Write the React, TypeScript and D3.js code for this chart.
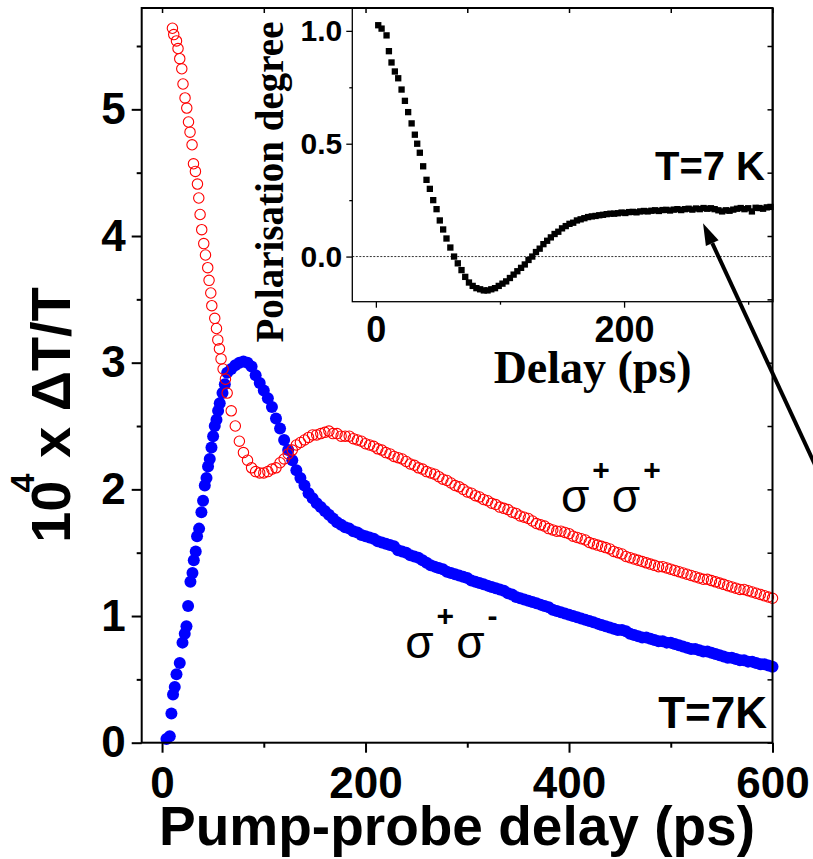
import React, { useEffect, useRef } from 'react';
import * as d3 from 'd3';

// sigma+ sigma+ (red open circles): steep early decay, [delay ps, value]
const sameEarly: [number, number][] = [
  [10.2, 5.64], [11.5, 5.59], [14.2, 5.54], [15.7, 5.48], [17.4, 5.4], [19.4, 5.32], [20.6, 5.2], [22.6, 5.09],
  [24.3, 5.01], [26.0, 4.9], [27.5, 4.82], [29.5, 4.72], [30.9, 4.57], [32.8, 4.51], [34.8, 4.41], [36.1, 4.3],
  [37.4, 4.17], [39.0, 4.05], [41.0, 3.94], [42.7, 3.85], [44.9, 3.75], [46.2, 3.65], [47.9, 3.55], [48.9, 3.45],
  [51.8, 3.35], [53.5, 3.27], [54.8, 3.18], [56.4, 3.11], [58.0, 3.03], [60.0, 2.95], [62.3, 2.87],
];

// sigma+ sigma- (blue filled circles): rising edge
const crossEarly: [number, number][] = [
  [4.3, 0.03], [7.6, 0.05], [9.2, 0.23], [10.8, 0.38], [12.5, 0.44], [14.2, 0.54], [17.4, 0.63], [20.1, 0.79],
  [22.3, 0.86], [24.0, 0.92], [25.6, 1.08], [27.9, 1.27], [29.9, 1.34], [31.2, 1.44], [33.1, 1.51], [34.4, 1.63],
  [36.4, 1.69], [38.7, 1.82], [40.3, 1.91], [42.0, 2.03], [43.7, 2.09], [45.2, 2.18], [46.9, 2.24], [48.6, 2.33],
  [50.2, 2.42], [51.8, 2.5], [53.5, 2.55], [55.1, 2.62], [56.7, 2.68], [59.4, 2.76], [61.7, 2.83],
];

// both tails are sampled every 4 ps from 64 ps to 600 ps
const tailDelays = d3.range(64, 601, 4);
const sameTail = [
  2.76, 2.62, 2.5, 2.38, 2.29, 2.23, 2.17, 2.14, 2.13, 2.13,
  2.14, 2.16, 2.17, 2.21, 2.24, 2.28, 2.31, 2.35, 2.37, 2.39,
  2.41, 2.43, 2.43, 2.44, 2.45, 2.46, 2.44, 2.44, 2.42, 2.42,
  2.42, 2.4, 2.39, 2.38, 2.36, 2.35, 2.34, 2.32, 2.31, 2.29,
  2.28, 2.26, 2.25, 2.24, 2.22, 2.2, 2.19, 2.17, 2.16, 2.14,
  2.13, 2.12, 2.1, 2.08, 2.07, 2.05, 2.03, 2.02, 2.0, 1.98,
  1.97, 1.95, 1.94, 1.92, 1.91, 1.89, 1.88, 1.86, 1.85, 1.84,
  1.82, 1.81, 1.79, 1.78, 1.77, 1.75, 1.73, 1.72, 1.71, 1.69,
  1.68, 1.67, 1.67, 1.66, 1.65, 1.63, 1.62, 1.61, 1.6, 1.58,
  1.57, 1.56, 1.55, 1.54, 1.53, 1.51, 1.5, 1.49, 1.47, 1.46,
  1.45, 1.44, 1.43, 1.42, 1.41, 1.4, 1.39, 1.39, 1.38, 1.37,
  1.36, 1.35, 1.34, 1.33, 1.32, 1.31, 1.3, 1.29, 1.29, 1.28,
  1.27, 1.26, 1.25, 1.24, 1.23, 1.22, 1.21, 1.21, 1.2, 1.19,
  1.18, 1.17, 1.16, 1.15, 1.14,
];
const crossTail = [
  2.92, 2.95, 2.98, 3.0, 3.01, 3.0, 2.97, 2.9, 2.84, 2.78,
  2.72, 2.65, 2.56, 2.48, 2.39, 2.31, 2.23, 2.15, 2.09, 2.03,
  1.97, 1.93, 1.89, 1.86, 1.83, 1.8, 1.77, 1.74, 1.72, 1.7,
  1.69, 1.67, 1.66, 1.64, 1.63, 1.62, 1.61, 1.59, 1.58, 1.57,
  1.56, 1.55, 1.52, 1.51, 1.5, 1.48, 1.47, 1.46, 1.44, 1.42,
  1.4, 1.39, 1.38, 1.37, 1.35, 1.34, 1.33, 1.32, 1.31, 1.3,
  1.28, 1.27, 1.26, 1.25, 1.24, 1.23, 1.22, 1.21, 1.2, 1.18,
  1.17, 1.15, 1.14, 1.13, 1.12, 1.11, 1.1, 1.09, 1.08, 1.07,
  1.05, 1.04, 1.03, 1.02, 1.01, 1.0, 0.99, 0.98, 0.97, 0.96,
  0.95, 0.94, 0.93, 0.92, 0.91, 0.9, 0.89, 0.89, 0.88, 0.86,
  0.85, 0.84, 0.83, 0.83, 0.82, 0.81, 0.8, 0.8, 0.79, 0.79,
  0.78, 0.77, 0.76, 0.75, 0.74, 0.74, 0.73, 0.72, 0.72, 0.71,
  0.7, 0.69, 0.68, 0.67, 0.67, 0.66, 0.65, 0.65, 0.64, 0.64,
  0.63, 0.62, 0.62, 0.61, 0.6,
];

// inset: polarisation degree
const polEarly: [number, number][] = [
  [1.9, 1.025], [4.6, 1.01], [8.6, 0.98], [10.5, 0.91], [12.6, 0.86], [15.3, 0.82], [18, 0.79], [20.7, 0.74],
  [23.4, 0.69], [26, 0.64], [28.8, 0.59], [31.4, 0.54], [33.3, 0.5], [35.4, 0.46], [38.1, 0.4], [40.8, 0.34],
  [43.5, 0.3], [46.2, 0.25], [48.9, 0.21], [51.5, 0.16], [54.2, 0.12], [56.9, 0.08],
];
const polDelays = d3.range(60, 319, 3);
const polTail = [
  0.04, 0.0, -0.03, -0.06, -0.09, -0.115, -0.13, -0.14, -0.145, -0.15,
  -0.15, -0.145, -0.14, -0.13, -0.12, -0.11, -0.095, -0.08, -0.065, -0.05,
  -0.035, -0.015, 0.0, 0.02, 0.035, 0.055, 0.07, 0.085, 0.1, 0.11,
  0.125, 0.135, 0.145, 0.15, 0.16, 0.165, 0.17, 0.175, 0.178, 0.18,
  0.183, 0.185, 0.188, 0.19, 0.19, 0.192, 0.195, 0.193, 0.197, 0.198,
  0.196, 0.2, 0.202, 0.2, 0.203, 0.205, 0.202, 0.206, 0.207, 0.204,
  0.208, 0.21, 0.206, 0.21, 0.212, 0.208, 0.213, 0.21, 0.215, 0.212,
  0.214, 0.21, 0.205, 0.2, 0.205, 0.203, 0.208, 0.212, 0.215, 0.21,
  0.214, 0.2, 0.216, 0.215, 0.212, 0.218, 0.22,
];

const mainXTicks = [0, 200, 400, 600];
const mainXMinor = [100, 300, 500];
const mainYTicks = [0, 1, 2, 3, 4, 5];
const mainYMinor = [0.5, 1.5, 2.5, 3.5, 4.5, 5.5];
const insetXTicks = [0, 200];
const insetXMinor = [100, 300];
const insetYTicks = [0, 0.5, 1.0];
const insetYMinor = [0.25, 0.75];

const SANS = 'Liberation Sans, Arial, sans-serif';
const SERIF = 'Liberation Serif, Times New Roman, serif';

const Chart = () => {
  const svgRef = useRef<SVGSVGElement>(null);

  useEffect(() => {
    const svg = d3.select(svgRef.current);
    svg.selectAll('*').remove();

    // main plot scales
    const x = d3.scaleLinear().domain([-20, 600]).range([141.7, 772.5]);
    const y = d3.scaleLinear().domain([0, 5.8]).range([742.7, 8]);

    // inset scales
    const ix = d3.scaleLinear().domain([-19, 320]).range([352.3, 773]);
    const iy = d3.scaleLinear().domain([-0.2, 1.1]).range([301.7, 8.3]);

    const styleAxis = (g, width, fontSize) => {
      g.select('.domain').remove();
      g.selectAll('line').attr('stroke', '#000').attr('stroke-width', width);
      g.selectAll('text')
        .attr('fill', '#000')
        .attr('font-family', SANS)
        .attr('font-weight', 'bold')
        .attr('font-size', fontSize);
    };

    // ---- main data
    const same = [...sameEarly, ...tailDelays.map((t, i) => [t, sameTail[i]] as [number, number])];
    const cross = [...crossEarly, ...tailDelays.map((t, i) => [t, crossTail[i]] as [number, number])];

    svg.append('g')
      .selectAll('circle')
      .data(cross)
      .join('circle')
      .attr('cx', (d) => x(d[0]))
      .attr('cy', (d) => y(d[1]))
      .attr('r', 6)
      .attr('fill', '#0000ff');

    svg.append('g')
      .selectAll('circle')
      .data(same)
      .join('circle')
      .attr('cx', (d) => x(d[0]))
      .attr('cy', (d) => y(d[1]))
      .attr('r', 5.2)
      .attr('fill', 'none')
      .attr('stroke', '#ff0000')
      .attr('stroke-width', 1.1);

    // ---- inset
    const inset = svg.append('g');
    inset.append('rect')
      .attr('x', ix.range()[0])
      .attr('y', iy.range()[1])
      .attr('width', ix.range()[1] - ix.range()[0])
      .attr('height', iy.range()[0] - iy.range()[1])
      .attr('fill', '#fff')
      .attr('stroke', '#000')
      .attr('stroke-width', 1.3);

    inset.append('line')
      .attr('x1', ix.range()[0])
      .attr('x2', ix.range()[1])
      .attr('y1', iy(0))
      .attr('y2', iy(0))
      .attr('stroke', '#000')
      .attr('stroke-width', 0.8)
      .attr('stroke-dasharray', '2,1.5');

    const pol = [...polEarly, ...polDelays.map((t, i) => [t, polTail[i]] as [number, number])];
    const square = d3.symbol(d3.symbolSquare, 40);
    inset.append('g')
      .selectAll('path')
      .data(pol)
      .join('path')
      .attr('d', square)
      .attr('transform', (d) => `translate(${ix(d[0])},${iy(d[1])})`)
      .attr('fill', '#000');

    inset.append('g')
      .attr('transform', `translate(${ix.range()[0]},0)`)
      .call(d3.axisLeft(iy).tickValues(insetYTicks).tickSize(6).tickPadding(4).tickFormat(d3.format('.1f')))
      .call((g) => styleAxis(g, 1.3, 30));
    inset.append('g')
      .attr('transform', `translate(${ix.range()[0]},0)`)
      .call(d3.axisLeft(iy).tickValues(insetYMinor).tickSize(3).tickFormat(() => ''))
      .call((g) => styleAxis(g, 1.3, 30));
    inset.append('g')
      .attr('transform', `translate(0,${iy.range()[0]})`)
      .call(d3.axisBottom(ix).tickValues(insetXTicks).tickSize(6).tickPadding(9).tickFormat(d3.format('d')))
      .call((g) => styleAxis(g, 1.3, 36));
    inset.append('g')
      .attr('transform', `translate(0,${iy.range()[0]})`)
      .call(d3.axisBottom(ix).tickValues(insetXMinor).tickSize(3).tickFormat(() => ''))
      .call((g) => styleAxis(g, 1.3, 36));

    inset.append('text')
      .attr('transform', 'translate(283,182) rotate(-90)')
      .attr('text-anchor', 'middle')
      .attr('font-family', SERIF)
      .attr('font-weight', 'bold')
      .attr('font-size', 39)
      .text('Polarisation degree');

    inset.append('text')
      .attr('x', (ix.range()[0] + ix.range()[1]) / 2 + 30)
      .attr('y', 383)
      .attr('text-anchor', 'middle')
      .attr('font-family', SERIF)
      .attr('font-weight', 'bold')
      .attr('font-size', 46)
      .text('Delay (ps)');

    inset.append('text')
      .attr('x', 765)
      .attr('y', 180)
      .attr('text-anchor', 'end')
      .attr('font-family', SANS)
      .attr('font-weight', 'bold')
      .attr('font-size', 40)
      .text('T=7 K');

    // ---- main frame and axes
    svg.append('rect')
      .attr('x', x.range()[0])
      .attr('y', y.range()[1])
      .attr('width', x.range()[1] - x.range()[0])
      .attr('height', y.range()[0] - y.range()[1])
      .attr('fill', 'none')
      .attr('stroke', '#000')
      .attr('stroke-width', 2);

    svg.append('g')
      .attr('transform', `translate(${x.range()[0]},0)`)
      .call(d3.axisLeft(y).tickValues(mainYTicks).tickSize(10).tickPadding(6).tickFormat(d3.format('d')))
      .call((g) => styleAxis(g, 2, 44));
    svg.append('g')
      .attr('transform', `translate(${x.range()[0]},0)`)
      .call(d3.axisLeft(y).tickValues(mainYMinor).tickSize(5).tickFormat(() => ''))
      .call((g) => styleAxis(g, 2, 44));
    svg.append('g')
      .attr('transform', `translate(${x.range()[1]},0)`)
      .call(d3.axisRight(y).tickValues([...mainYTicks, ...mainYMinor]).tickSize(-5).tickFormat(() => ''))
      .call((g) => styleAxis(g, 1.5, 44));
    svg.append('g')
      .attr('transform', `translate(0,${y.range()[0]})`)
      .call(d3.axisBottom(x).tickValues(mainXTicks).tickSize(10).tickPadding(14).tickFormat(d3.format('d')))
      .call((g) => styleAxis(g, 2, 44));
    svg.append('g')
      .attr('transform', `translate(0,${y.range()[0]})`)
      .call(d3.axisBottom(x).tickValues(mainXMinor).tickSize(5).tickFormat(() => ''))
      .call((g) => styleAxis(g, 2, 44));
    svg.append('g')
      .attr('transform', `translate(0,${y.range()[1]})`)
      .call(d3.axisTop(x).tickValues([...mainXTicks, ...mainXMinor]).tickSize(-5).tickFormat(() => ''))
      .call((g) => styleAxis(g, 1.5, 44));

    // axis titles
    svg.append('text')
      .attr('x', 457)
      .attr('y', 845)
      .attr('text-anchor', 'middle')
      .attr('font-family', SANS)
      .attr('font-weight', 'bold')
      .attr('font-size', 55)
      .text('Pump-probe delay (ps)');

    const yTitle = svg.append('text')
      .attr('transform', 'translate(70,415) rotate(-90)')
      .attr('text-anchor', 'middle')
      .attr('font-family', SANS)
      .attr('font-weight', 'bold')
      .attr('font-size', 56);
    yTitle.append('tspan').text('10');
    yTitle.append('tspan').attr('dx', -12).attr('dy', -36).attr('font-size', 34).text('4');
    yTitle.append('tspan').attr('dy', 36).text(' x \u0394T/T');

    // series labels
    const sigmaLabel = (t, v, second) => {
      const lab = svg.append('text')
        .attr('x', x(t))
        .attr('y', y(v))
        .attr('font-family', SANS)
        .attr('font-size', 46);
      lab.append('tspan').text('\u03c3');
      lab.append('tspan').attr('dx', 3).attr('dy', -32).attr('font-size', 30).attr('font-weight', 'bold').text('+');
      lab.append('tspan').attr('dx', 2).attr('dy', 32).text('\u03c3');
      lab.append('tspan').attr('dx', 3).attr('dy', -32).attr('font-size', 30).attr('font-weight', 'bold').text(second);
    };
    sigmaLabel(392, 1.82, '+');
    sigmaLabel(239, 0.67, '-');

    svg.append('text')
      .attr('x', 767)
      .attr('y', 728)
      .attr('text-anchor', 'end')
      .attr('font-family', SANS)
      .attr('font-weight', 'bold')
      .attr('font-size', 44)
      .text('T=7K');

    // arrow from outside the frame to the inset plateau
    const tail = [x(657), y(1.93)];
    const tip = [ix(263.6), iy(0.148)];
    const ang = Math.atan2(tip[1] - tail[1], tip[0] - tail[0]);
    const headLen = 22;
    const headHalf = 7;
    const base = [tip[0] - headLen * Math.cos(ang), tip[1] - headLen * Math.sin(ang)];
    svg.append('line')
      .attr('x1', tail[0])
      .attr('y1', tail[1])
      .attr('x2', base[0])
      .attr('y2', base[1])
      .attr('stroke', '#000')
      .attr('stroke-width', 4);
    svg.append('path')
      .attr('d', d3.line()([
        tip as [number, number],
        [base[0] + headHalf * Math.sin(ang), base[1] - headHalf * Math.cos(ang)],
        [base[0] - headHalf * Math.sin(ang), base[1] + headHalf * Math.cos(ang)],
      ]) + 'Z')
      .attr('fill', '#000');
  }, []);

  return (
    <svg
      ref={svgRef}
      width={813}
      height={859}
      style={{ position: 'absolute', left: 0, top: 0, background: '#fff' }}
    />
  );
};

export default function App() {
  return <Chart />;
}
